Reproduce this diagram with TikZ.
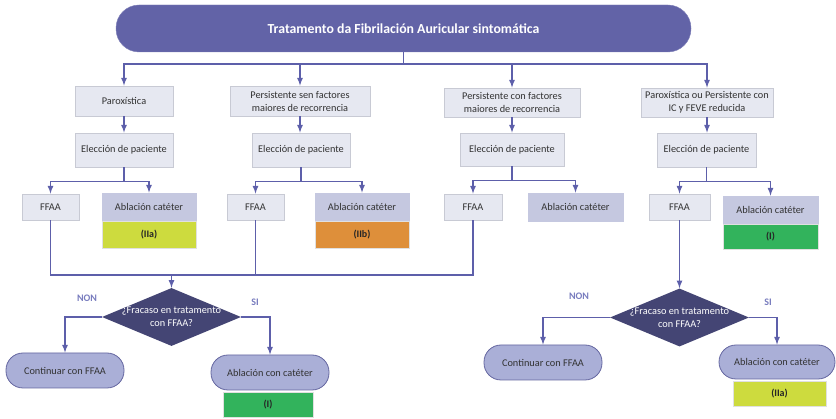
\documentclass[tikz,border=0pt]{standalone}
\usepackage{fontspec}
\setmainfont{Carlito}
\usepackage{tikz}
\usetikzlibrary{arrows.meta}
\usetikzlibrary{shapes.geometric}
\tikzset{>=latex}
\definecolor{titlecol}{RGB}{98,99,167}
\definecolor{linkcol}{RGB}{93,95,170}
\definecolor{boxfill}{RGB}{230,232,241}
\definecolor{boxline}{RGB}{200,202,212}
\definecolor{ablfill}{RGB}{197,200,224}
\definecolor{deccol}{RGB}{68,69,116}
\definecolor{pillfill}{RGB}{170,175,215}
\definecolor{pillline}{RGB}{100,102,160}
\definecolor{gradeIIa}{RGB}{205,219,62}
\definecolor{gradeIIb}{RGB}{222,143,58}
\definecolor{gradeI}{RGB}{50,179,92}
\definecolor{yncol}{RGB}{120,124,190}
\definecolor{txtcol}{RGB}{50,50,50}
\tikzset{titlebox/.style = {shape=rectangle,fill=titlecol,draw=titlecol!80!white,rounded corners=23pt,
                            minimum width=575pt,minimum height=47pt,text=white,font=\fontsize{13.8}{16}\selectfont\bfseries}}
\tikzset{catbox/.style = {shape=rectangle,fill=boxfill,draw=boxline,line width=0.8pt,inner sep=1pt,
                          align=center,text=txtcol,font=\fontsize{10.3}{13}\selectfont}}
\tikzset{ablbox/.style = {catbox,fill=ablfill,draw=ablfill}}
\tikzset{gradebox/.style = {shape=rectangle,draw=black!12,line width=0.8pt,text=black!85,
                            font=\fontsize{10}{12}\selectfont\bfseries}}
\tikzset{decision/.style = {shape=diamond,fill=deccol,inner sep=0pt,minimum width=139pt,minimum height=58pt}}
\tikzset{dectext/.style = {align=center,text=white,font=\fontsize{10.3}{13}\selectfont}}
\tikzset{pill/.style = {shape=rectangle,fill=pillfill,draw=pillline,line width=0.8pt,rounded corners=17pt,
                        minimum width=118pt,minimum height=35pt,text=txtcol,font=\fontsize{10.3}{12}\selectfont}}
\tikzset{yn/.style = {text=yncol,font=\fontsize{10}{12}\selectfont\bfseries}}
\tikzset{link/.style = {draw=linkcol,line width=1.6pt}}

\begin{document}
\begin{tikzpicture}[x=1pt,y=-1pt]
                    \useasboundingbox (0,0) rectangle (836,419);
                    \node[titlebox] (T) at (403.5,28.5) {Tratamento da Fibrilación Auricular sintomática};

                    \node[catbox,minimum width=98pt,minimum height=30pt] (P1) at (124,101) {Paroxística};
                    \node[catbox,minimum width=140pt,minimum height=30pt] (P2) at (300,101) {Persistente sen factores\\maiores de recorrencia};
                    \node[catbox,minimum width=136pt,minimum height=29pt] (P3) at (512,102.5) {Persistente con factores\\maiores de recorrencia};
                    \node[catbox,minimum width=132pt,minimum height=29pt] (P4) at (707,102.5) {Paroxística ou Persistente con\\IC y FEVE reducida};

                    \node[catbox,minimum width=98pt,minimum height=34pt] (E1) at (124,150) {Elección de paciente};
                    \node[catbox,minimum width=98pt,minimum height=34pt] (E2) at (301,150) {Elección de paciente};
                    \node[catbox,minimum width=104pt,minimum height=33pt] (E3) at (512,149.5) {Elección de paciente};
                    \node[catbox,minimum width=99pt,minimum height=34pt] (E4) at (706.5,150) {Elección de paciente};

                    \node[catbox,minimum width=57pt,minimum height=26pt] (F1) at (50.5,207) {FFAA};
                    \node[ablbox,minimum width=94pt,minimum height=28pt] (A1) at (149,207) {Ablación catéter};
                    \node[gradebox,fill=gradeIIa,minimum width=94pt,minimum height=27pt] (G1) at (149,234.5) {(IIa)};
                    \node[catbox,minimum width=57pt,minimum height=26pt] (F2) at (255.5,207) {FFAA};
                    \node[ablbox,minimum width=94pt,minimum height=28pt] (A2) at (362,207) {Ablación catéter};
                    \node[gradebox,fill=gradeIIb,minimum width=94pt,minimum height=27pt] (G2) at (362,234.5) {(IIb)};
                    \node[catbox,minimum width=58pt,minimum height=26pt] (F3) at (473,207) {FFAA};
                    \node[ablbox,minimum width=95pt,minimum height=28pt] (A3) at (575.5,207) {Ablación catéter};
                    \node[catbox,minimum width=61pt,minimum height=26pt] (F4) at (679.5,207) {FFAA};
                    \node[ablbox,minimum width=95pt,minimum height=28pt] (A4) at (770.5,210) {Ablación catéter};
                    \node[gradebox,fill=gradeI,minimum width=95pt,minimum height=25pt] (G4) at (770.5,236.5) {(I)};

                    \node[decision] (D1) at (171.5,317) {};
                    \node[dectext] (D1t) at (D1) {¿Fracaso en tratamento\\con FFAA?};
                    \node[yn] (N1) at (87,298) {NON};
                    \node[yn] (S1) at (255,302) {SI};
                    \node[pill] (C1) at (65,370.5) {Continuar con FFAA};
                    \node[pill] (B1) at (270,372.5) {Ablación con catéter};
                    \node[gradebox,fill=gradeI,minimum width=90pt,minimum height=25pt] (G5) at (268,404.5) {(I)};

                    \node[decision] (D2) at (679.5,317.5) {};
                    \node[dectext] (D2t) at (D2) {¿Fracaso en tratamento\\con FFAA?};
                    \node[yn] (N2) at (579,296) {NON};
                    \node[yn] (S2) at (768,302) {SI};
                    \node[pill] (C2) at (543,362.5) {Continuar con FFAA};
                    \node[pill,minimum width=116pt,minimum height=34pt] (B2) at (777,362) {Ablación con catéter};
                    \node[gradebox,fill=gradeIIa,minimum width=93pt,minimum height=25pt] (G6) at (779.5,393.5) {(IIa)};

                    \coordinate (J1) at (171.5,275);

                    \draw[link,->] (T.south) -- ++(0,12) -| (P1.north);
                    \draw[link,->] (T.south) -- ++(0,12) -| (P2.north);
                    \draw[link,->] (T.south) -- ++(0,12) -| (P3.north);
                    \draw[link,->] (T.south) -- ++(0,12) -| (P4.north);
                    \draw[link,->] (P1) -- (E1);
                    \draw[link,->] (P2.south) -- (P2.south |- E2.north);
                    \draw[link,->] (P3) -- (E3);
                    \draw[link,->] (P4.south) -- (P4.south |- E4.north);
                    \draw[link,->] (E1.south) -- ++(0,14) -| (F1.north);
                    \draw[link,->] (E1.south) -- ++(0,14) -| (A1.north);
                    \draw[link,->] (E2.south) -- ++(0,14) -| (F2.north);
                    \draw[link,->] (E2.south) -- ++(0,14) -| (A2.north);
                    \draw[link,->] (E3.south) -- ++(0,14) -| (F3.north);
                    \draw[link,->] (E3.south) -- ++(0,14) -| (A3.north);
                    \draw[link,->] (E4.south) -- ++(0,14) -| (F4.north);
                    \draw[link,->] (E4.south) -- ++(0,14) -| (A4.north);
                    \draw[link] (F1.south) |- (J1) -| (F3.south);
                    \draw[link] (F2.south) -- (F2.south |- J1);
                    \draw[link,->] (J1) -- (D1.north);
                    \draw[link,->] (F4) -- (D2.north);
                    \draw[link,->] (D1.west) -| (C1.north);
                    \draw[link,->] (D1.east) -| (B1.north);
                    \draw[link,->] (D2.west) -| (C2.north);
                    \draw[link,->] (D2.east) -| (B2.north);
                \end{tikzpicture}
\end{document}
